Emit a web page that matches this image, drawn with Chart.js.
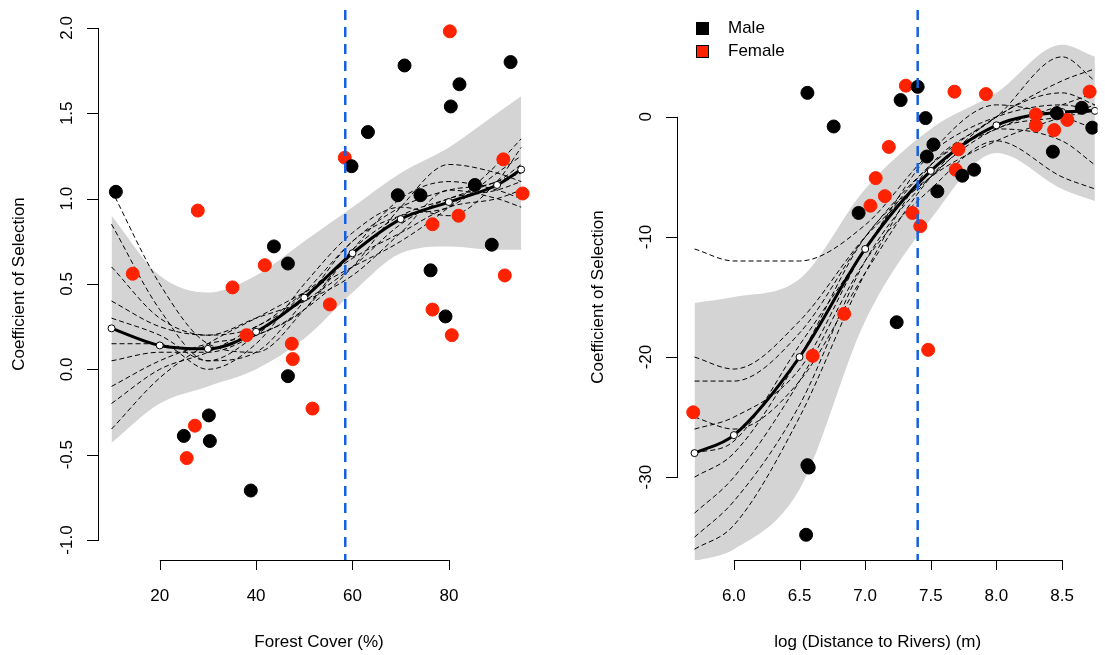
<!DOCTYPE html>
<html>
<head>
<meta charset="utf-8">
<script src="https://cdn.jsdelivr.net/npm/chart.js@4.4.1/dist/chart.umd.min.js"></script>
<style>
  body { margin: 0; background: #fff; }
  canvas { position: absolute; top: 0; }
</style>
</head>
<body>
<canvas id="forestChart" width="552" height="655" style="left:0"></canvas>
<canvas id="riverChart" width="553" height="655" style="left:552px"></canvas>
<script>
// ---- Forest cover panel ----
const forestMaleX = [10.9, 25, 30.2, 30.4, 38.9, 43.7, 46.6, 46.6, 59.8, 63.2, 69.4, 70.8, 74.1, 76.2, 79.3, 80.4, 82.2, 85.4, 88.9, 92.8];
const forestMaleY = [1.04, -0.39, -0.27, -0.42, -0.71, 0.72, 0.62, -0.04, 1.19, 1.39, 1.02, 1.78, 1.02, 0.58, 0.31, 1.54, 1.67, 1.08, 0.73, 1.80];
const forestFemaleX = [14.4, 25.6, 27.3, 27.9, 35.1, 38, 41.8, 47.4, 47.6, 51.7, 55.3, 58.4, 76.6, 76.6, 80.2, 80.6, 82, 91.3, 91.6, 95.3];
const forestFemaleY = [0.56, -0.52, -0.33, 0.93, 0.48, 0.2, 0.61, 0.15, 0.06, -0.23, 0.38, 1.24, 0.85, 0.35, 1.98, 0.2, 0.9, 1.23, 0.55, 1.03];
const forestKnots = [10, 20, 30, 40, 50, 60, 70, 80, 90, 95];
const forestMean = [0.24, 0.14, 0.12, 0.22, 0.42, 0.68, 0.88, 0.98, 1.08, 1.17];
const forestUpper = [0.9, 0.55, 0.45, 0.55, 0.75, 0.95, 1.15, 1.3, 1.5, 1.6];
const forestLower = [-0.43, -0.2, -0.1, 0.0, 0.18, 0.45, 0.68, 0.72, 0.7, 0.7];
const forestBoot = [
  [1.05, 0.5, 0.15, 0.1, 0.35, 0.7, 0.9, 1.0, 1.1, 1.15],
  [0.3, 0.2, 0.05, 0.2, 0.45, 0.75, 0.95, 1.05, 1.1, 1.2],
  [-0.2, 0.0, 0.1, 0.25, 0.4, 0.6, 0.85, 1.0, 1.05, 1.1],
  [0.6, 0.3, 0.2, 0.25, 0.45, 0.65, 0.8, 0.95, 1.0, 1.05],
  [0.15, 0.15, 0.0, 0.15, 0.5, 0.8, 0.95, 0.9, 1.1, 1.3],
  [-0.35, -0.05, 0.15, 0.3, 0.45, 0.6, 0.75, 0.95, 1.2, 1.35],
  [0.4, 0.25, 0.2, 0.3, 0.4, 0.55, 0.8, 1.05, 1.0, 0.95],
  [0.05, 0.1, 0.1, 0.2, 0.35, 0.7, 1.0, 1.1, 1.05, 1.0],
  [0.85, 0.35, 0.05, 0.1, 0.4, 0.75, 0.9, 0.95, 1.15, 1.25],
  [-0.1, 0.05, 0.15, 0.2, 0.35, 0.6, 0.95, 1.2, 1.15, 1.1]
];
const forestXTicks = [20, 40, 60, 80];
const forestYTicks = [-1.0, -0.5, 0.0, 0.5, 1.0, 1.5, 2.0];
const forestThreshold = 58.5;

// ---- River distance panel ----
const riverMaleX = [6.56, 6.76, 6.95, 7.27, 7.4, 7.46, 7.52, 7.47, 7.55, 7.74, 7.83, 7.24, 6.56, 6.57, 6.55, 8.46, 8.43, 8.65, 8.73];
const riverMaleY = [2.0, -0.8, -8, 1.4, 2.5, -0.1, -2.3, -3.3, -6.2, -4.9, -4.4, -17.1, -29.0, -29.2, -34.8, 0.3, -2.9, 0.75, -0.9];
const riverFemaleX = [5.69, 6.6, 6.84, 7.04, 7.08, 7.15, 7.18, 7.31, 7.36, 7.42, 7.48, 7.68, 7.71, 7.69, 7.92, 8.3, 8.3, 8.44, 8.54, 8.71];
const riverFemaleY = [-24.6, -19.9, -16.4, -7.4, -5.1, -6.6, -2.5, 2.6, -8, -9.1, -19.4, 2.1, -2.7, -4.4, 1.9, 0.2, -0.7, -1.1, -0.25, 2.1];
const riverKnots = [5.7, 6.0, 6.5, 7.0, 7.5, 8.0, 8.5, 8.75];
const riverMean = [-28, -26.5, -20, -11, -4.5, -0.7, 0.4, 0.5];
const riverUpper = [-15.5, -15, -13.5, -6, -1, 2, 6, 5];
const riverLower = [-37, -36, -31, -17, -8.5, -3, -6, -7];
const riverBoot = [
  [-11, -12, -12, -9, -3, 0, 1, 0.5],
  [-35, -32, -24, -12, -5, -1, 0, 0.5],
  [-26, -25, -21, -11, -4, -1, 1, 2],
  [-22, -22, -18, -10, -4, 0, 3, 4],
  [-33, -30, -22, -12, -6, -2, -5, -6],
  [-30, -28, -20, -10, -5, -2, 0, 1],
  [-25, -26, -22, -13, -5, 0, 2, 1],
  [-36, -34, -25, -13, -4, 0, 5, 3],
  [-20, -21, -17, -10, -5, -1, -2, -4],
  [-28, -27, -19, -11, -3, 1, 0, -1]
];
const riverXTicks = [6.0, 6.5, 7.0, 7.5, 8.0, 8.5];
const riverYTicks = [-30, -20, -10, 0];
const riverThreshold = 7.4;

const FONT = '"Liberation Sans", Arial, sans-serif';
const RED = '#ff2200';

function zip(xs, ys) { return xs.map((x, i) => ({ x, y: ys[i] })); }

// R-style axes drawn with the chart's own scales
function rAxes(opts) {
  return {
    id: 'rAxes',
    afterDraw(chart) {
      const { ctx, chartArea: a, scales: { x, y } } = chart;
      ctx.save();
      ctx.strokeStyle = '#000';
      ctx.lineWidth = 1;
      ctx.fillStyle = '#000';
      ctx.font = '17px ' + FONT;
      // x axis
      const x0 = x.getPixelForValue(opts.xTicks[0]);
      const x1 = x.getPixelForValue(opts.xTicks[opts.xTicks.length - 1]);
      ctx.beginPath();
      ctx.moveTo(x0, a.bottom + 0.5); ctx.lineTo(x1, a.bottom + 0.5);
      opts.xTicks.forEach(t => {
        const px = Math.round(x.getPixelForValue(t)) + 0.5;
        ctx.moveTo(px, a.bottom); ctx.lineTo(px, a.bottom + 10);
      });
      ctx.stroke();
      ctx.textAlign = 'center'; ctx.textBaseline = 'middle';
      opts.xTicks.forEach(t => ctx.fillText(opts.xFmt(t), x.getPixelForValue(t), a.bottom + 36));
      ctx.fillText(opts.xTitle, (a.left + a.right) / 2 + opts.xTitleShift, a.bottom + 82);
      // y axis
      const y0 = y.getPixelForValue(opts.yTicks[0]);
      const y1 = y.getPixelForValue(opts.yTicks[opts.yTicks.length - 1]);
      ctx.beginPath();
      ctx.moveTo(a.left - 0.5, y0); ctx.lineTo(a.left - 0.5, y1);
      opts.yTicks.forEach(t => {
        const py = Math.round(y.getPixelForValue(t)) + 0.5;
        ctx.moveTo(a.left, py); ctx.lineTo(a.left - 12, py);
      });
      ctx.stroke();
      opts.yTicks.forEach(t => {
        ctx.save();
        ctx.translate(a.left - 32, y.getPixelForValue(t));
        ctx.rotate(-Math.PI / 2);
        ctx.fillText(opts.yFmt(t), 0, 0);
        ctx.restore();
      });
      ctx.save();
      ctx.translate(a.left - 80, (y0 + y1) / 2);
      ctx.rotate(-Math.PI / 2);
      ctx.fillText('Coefficient of Selection', 0, 0);
      ctx.restore();
      // threshold
      const tx = x.getPixelForValue(opts.threshold);
      ctx.strokeStyle = '#1560e0';
      ctx.lineWidth = 2.5;
      ctx.setLineDash([10, 7]);
      ctx.beginPath();
      ctx.moveTo(tx, a.top); ctx.lineTo(tx, a.bottom);
      ctx.stroke();
      ctx.restore();
      if (opts.legend) {
        ctx.save();
        ctx.font = '17px ' + FONT;
        ctx.textBaseline = 'middle';
        [['Male', '#000'], ['Female', RED]].forEach(([lbl, c], i) => {
          const ly = 28 + i * 23;
          ctx.fillStyle = c;
          ctx.fillRect(144, ly - 6, 13, 13);
          ctx.strokeStyle = '#000';
          ctx.strokeRect(144.5, ly - 5.5, 12, 12);
          ctx.fillStyle = '#000';
          ctx.fillText(lbl, 176, ly);
        });
        ctx.restore();
      }
    }
  };
}

function drawPanel(canvas, d) {
  const lineDs = (data, extra) => Object.assign({
    type: 'line', data: zip(d.knots, data), pointRadius: 0,
    cubicInterpolationMode: 'monotone', fill: false
  }, extra);
  const datasets = [
    { type: 'scatter', data: zip(d.maleX, d.maleY), backgroundColor: '#000', borderColor: '#000', pointRadius: 6.5, order: 0 },
    { type: 'scatter', data: zip(d.femaleX, d.femaleY), backgroundColor: RED, borderColor: RED, pointRadius: 6.5, order: 0 },
    lineDs(d.mean, { borderColor: '#000', borderWidth: 3, pointRadius: 3.5, pointBackgroundColor: '#fff', pointBorderColor: '#000', pointBorderWidth: 1, order: 1 }),
    ...d.boot.map(b => lineDs(b, { borderColor: '#000', borderWidth: 1, borderDash: [5, 3], order: 2 })),
    lineDs(d.upper, { borderWidth: 0, backgroundColor: '#d4d4d4', fill: '+1', order: 3 }),
    lineDs(d.lower, { borderWidth: 0, order: 3 })
  ];
  new Chart(canvas, {
    data: { datasets },
    options: {
      responsive: false,
      animation: false,
      layout: { padding: d.padding },
      scales: {
        x: { type: 'linear', min: d.xMin, max: d.xMax, display: false },
        y: { type: 'linear', min: d.yMin, max: d.yMax, display: false }
      },
      plugins: { legend: { display: false }, tooltip: { enabled: false } }
    },
    plugins: [rAxes(d.axes)]
  });
}

drawPanel(document.getElementById('forestChart'), {
  maleX: forestMaleX, maleY: forestMaleY, femaleX: forestFemaleX, femaleY: forestFemaleY,
  knots: forestKnots, mean: forestMean, upper: forestUpper, lower: forestLower, boot: forestBoot,
  xMin: 7.4, xMax: 98.7, yMin: -1.117, yMax: 2.105,
  padding: { left: 99, right: 13, top: 10, bottom: 95 },
  axes: { xTicks: forestXTicks, yTicks: forestYTicks, threshold: forestThreshold,
    xFmt: t => String(t), yFmt: t => t.toFixed(1), xTitle: 'Forest Cover (%)', xTitleShift: 0, legend: false }
});

drawPanel(document.getElementById('riverChart'), {
  maleX: riverMaleX, maleY: riverMaleY, femaleX: riverFemaleX, femaleY: riverFemaleY,
  knots: riverKnots, mean: riverMean, upper: riverUpper, lower: riverLower, boot: riverBoot,
  xMin: 5.574, xMax: 8.77, yMin: -36.9, yMax: 8.9,
  padding: { left: 126, right: 0, top: 10, bottom: 95 },
  axes: { xTicks: riverXTicks, yTicks: riverYTicks, threshold: riverThreshold,
    xFmt: t => t.toFixed(1), yFmt: t => String(t), xTitle: 'log (Distance to Rivers) (m)', xTitleShift: -10, legend: true }
});
</script>
</body>
</html>
